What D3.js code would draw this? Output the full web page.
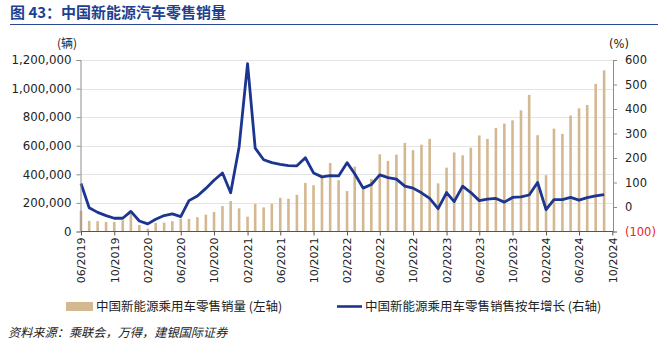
<!DOCTYPE html>
<html>
<head>
<meta charset="utf-8">
<script src="https://cdn.jsdelivr.net/npm/d3@7/dist/d3.min.js"></script>
<style>
  html, body { margin: 0; padding: 0; background: #fff; }
  svg { display: block; }
  text { font-family: "DejaVu Sans", sans-serif; }
  .cjk { font-family: "Noto Sans CJK SC", "Noto Sans", sans-serif; }
</style>
</head>
<body>
<svg id="chart" width="665" height="350"></svg>
<script>
// Monthly NEV passenger-car retail sales (units), 06/2019 – 09/2024
const startMonth = "2019-06";
const sales = [
  145000, 74000, 72000, 67000, 67000, 79000, 125000,
  46000, 20000, 60000, 62000, 72000, 90000, 88000, 100000, 118000, 137000, 178000, 213000,
  162000, 104000, 192000, 169000, 194000, 236000, 229000, 257000, 340000, 324000, 380000, 479000,
  359000, 283000, 454000, 295000, 368000, 540000, 494000, 538000, 620000, 569000, 607000, 648000,
  337000, 447000, 553000, 533000, 586000, 672000, 648000, 725000, 755000, 778000, 848000, 956000,
  674000, 394000, 720000, 683000, 811000, 862000, 885000, 1033000, 1128000
];
// Year-on-year growth (%)
const growth = [
  96, -3, -22, -35, -46, -46, -18,
  -57, -69, -50, -35, -28, -39, 26, 45, 76, 109, 139, 58,
  245, 585, 240, 193, 181, 174, 169, 168, 201, 139, 123, 128,
  127, 181, 136, 77, 92, 131, 120, 114, 85, 77, 58, 35,
  -7, 59, 22, 85, 59, 26, 32, 35, 20, 39, 41, 49,
  100, -11, 30, 30, 39, 28, 38, 45, 51
];
const leftTicks = [0, 200000, 400000, 600000, 800000, 1000000, 1200000];
const rightTicks = [-100, 0, 100, 200, 300, 400, 500, 600];
const xTickLabels = ["06/2019","10/2019","02/2020","06/2020","10/2020","02/2021","06/2021",
  "10/2021","02/2022","06/2022","10/2022","02/2023","06/2023","10/2023","02/2024","06/2024","10/2024"];

const titleText = "图 43：中国新能源汽车零售销量";
const leftUnit = "(辆)";
const rightUnit = "(%)";
const legendBar = "中国新能源乘用车零售销量 (左轴)";
const legendLine = "中国新能源乘用车零售销售按年增长 (右轴)";
const sourceText = "资料来源：乘联会，万得，建银国际证券";

const parseMonth = d3.utcParse("%Y-%m");
const parseTick = d3.utcParse("%m/%Y");
const t0 = parseMonth(startMonth);
const months = d3.range(sales.length).map(i => d3.utcMonth.offset(t0, i));
const axisEnd = parseTick(xTickLabels[xTickLabels.length - 1]);

const svg = d3.select("#chart");
const plot = { left: 81, right: 613, top: 60, bottom: 231.5 };

const x = d3.scaleUtc().domain([t0, axisEnd]).range([plot.left, 612.3]);
const yL = d3.scaleLinear().domain([0, 1200000]).range([plot.bottom, plot.top]);
const yR = d3.scaleLinear().domain([-100, 600]).range([plot.bottom, plot.top]);

const barColor = "#D4B892";
const lineColor = "#1B3590";
const axisColor = "#8C8C8C";

// Title and rule
svg.append("text").attr("class", "cjk")
  .attr("x", 10).attr("y", 18)
  .attr("font-size", 15).attr("font-weight", "bold")
  .attr("fill", "#1F3F8F")
  .text(titleText);
svg.append("line").attr("x1", 10).attr("x2", 658).attr("y1", 24.5).attr("y2", 24.5)
  .attr("stroke", "#2A4A96").attr("stroke-width", 1.2);

// Gridlines
svg.append("g").selectAll("line").data(leftTicks.filter(d => d > 0)).join("line")
  .attr("x1", plot.left).attr("x2", plot.right)
  .attr("y1", d => Math.round(yL(d)) + 0.5).attr("y2", d => Math.round(yL(d)) + 0.5)
  .attr("stroke", "#E4E4E4").attr("stroke-width", 1);

// Bars
const bw = 2.6;
svg.append("g").selectAll("rect").data(sales).join("rect")
  .attr("x", (d, i) => x(months[i]) - bw / 2)
  .attr("width", bw)
  .attr("y", d => yL(d))
  .attr("height", d => yL(0) - yL(d))
  .attr("fill", barColor);

// Growth line
svg.append("path")
  .datum(growth)
  .attr("fill", "none")
  .attr("stroke", lineColor)
  .attr("stroke-width", 2.8)
  .attr("stroke-linejoin", "round")
  .attr("d", d3.line().x((d, i) => x(months[i])).y(d => yR(d)));

// Left axis
const leftAxis = d3.axisLeft(yL).tickValues(leftTicks)
  .tickFormat(d3.format(",")).tickSize(4).tickPadding(5);
const gL = svg.append("g").attr("transform", `translate(${plot.left - 0.5},0)`).call(leftAxis);
gL.select(".domain").attr("stroke", axisColor);
gL.selectAll(".tick line").attr("stroke", axisColor);
gL.selectAll(".tick text").attr("font-size", 11.8).attr("fill", "#222")
  .attr("font-family", "DejaVu Sans, sans-serif");

// Right axis
const rightAxis = d3.axisRight(yR).tickValues(rightTicks)
  .tickFormat(d => d < 0 ? `(${Math.abs(d)})` : d).tickSize(4).tickPadding(8);
const gR = svg.append("g").attr("transform", `translate(${plot.right},0)`).call(rightAxis);
gR.select(".domain").attr("stroke", axisColor);
gR.selectAll(".tick line").attr("stroke", axisColor);
gR.selectAll(".tick text").attr("font-size", 11.5)
  .attr("font-family", "DejaVu Sans, sans-serif")
  .attr("fill", d => d < 0 ? "#E8262A" : "#222");

// Bottom axis
const bottomAxis = d3.axisBottom(x)
  .tickValues(xTickLabels.map(parseTick))
  .tickFormat(d3.utcFormat("%m/%Y")).tickSize(4).tickPadding(0);
const gB = svg.append("g").attr("transform", `translate(0,${plot.bottom})`).call(bottomAxis);
gB.select(".domain").attr("stroke", "#555").attr("d", `M${plot.left},0H${plot.right}`);
gB.selectAll(".tick line").attr("stroke", "#555");
gB.selectAll(".tick text")
  .attr("font-size", 11).attr("fill", "#222")
  .attr("font-family", "DejaVu Sans, sans-serif")
  .attr("text-anchor", "end")
  .attr("transform", "translate(0,6) rotate(-90)")
  .attr("x", 0).attr("y", 0).attr("dy", "0.35em");

// Unit labels
svg.append("text").attr("class", "cjk").attr("x", 67).attr("y", 48)
  .attr("text-anchor", "middle").attr("font-size", 12).attr("fill", "#222").text(leftUnit);
svg.append("text").attr("x", 619).attr("y", 48)
  .attr("text-anchor", "middle").attr("font-size", 11.5).attr("fill", "#222").text(rightUnit);

// Legend
const lg = svg.append("g");
lg.append("rect").attr("x", 66).attr("y", 302).attr("width", 27).attr("height", 9).attr("fill", barColor);
lg.append("text").attr("class", "cjk").attr("x", 96).attr("y", 310.5)
  .attr("font-size", 12.5).attr("fill", "#222").text(legendBar);
lg.append("line").attr("x1", 337).attr("x2", 362).attr("y1", 306.5).attr("y2", 306.5)
  .attr("stroke", lineColor).attr("stroke-width", 2.6);
lg.append("text").attr("class", "cjk").attr("x", 365).attr("y", 310.5)
  .attr("font-size", 12.5).attr("fill", "#222").text(legendLine);

// Source note
svg.append("text").attr("class", "cjk").attr("x", 8).attr("y", 337)
  .attr("font-size", 12.2).attr("font-style", "italic").attr("fill", "#222").text(sourceText);
</script>
</body>
</html>
